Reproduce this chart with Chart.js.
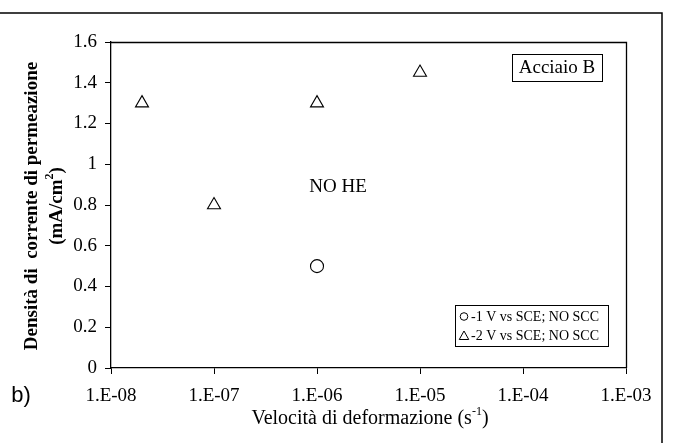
<!DOCTYPE html>
<html>
<head>
<meta charset="utf-8">
<script src="https://cdn.jsdelivr.net/npm/chart.js@4"></script>
<style>
  html, body { margin: 0; padding: 0; background: #fff; }
  canvas { display: block; }
</style>
</head>
<body>
<canvas id="c" width="674" height="443"></canvas>
<script>
// Strain rate (s^-1) and permeation current density (mA/cm^2)
const rateMinus1V = [1e-6];
const currentMinus1V = [0.5];
const rateMinus2V = [2e-8, 1e-7, 1e-6, 1e-5];
const currentMinus2V = [1.3, 0.8, 1.3, 1.45];

const xTickValues = [1e-8, 1e-7, 1e-6, 1e-5, 1e-4, 1e-3];
const xTickLabels = ['1.E-08', '1.E-07', '1.E-06', '1.E-05', '1.E-04', '1.E-03'];
const yTickLabels = ['0', '0.2', '0.4', '0.6', '0.8', '1', '1.2', '1.4', '1.6'];

const seriesNames = ['-1 V vs SCE; NO SCC', '-2 V vs SCE; NO SCC'];

const SERIF = "'Liberation Serif', 'Times New Roman', serif";
const INK = '#000';

function toPoints(xs, ys) { return xs.map((x, i) => ({ x: x, y: ys[i] })); }

// Draws text with a superscript piece: [base, sup, tail]
function drawSupText(ctx, parts, x, y, size, weight, align) {
  const [base, sup, tail] = parts;
  const supSize = Math.round(size * 0.62);
  ctx.font = `${weight} ${size}px ${SERIF}`;
  const wBase = ctx.measureText(base).width;
  const wTail = ctx.measureText(tail).width;
  ctx.font = `${weight} ${supSize}px ${SERIF}`;
  const wSup = ctx.measureText(sup).width;
  const total = wBase + wSup + wTail;
  const sx = align === 'center' ? x - total / 2 : x;
  ctx.textAlign = 'left';
  ctx.textBaseline = 'middle';
  ctx.font = `${weight} ${size}px ${SERIF}`;
  ctx.fillText(base, sx, y);
  ctx.font = `${weight} ${supSize}px ${SERIF}`;
  ctx.fillText(sup, sx + wBase, y - size * 0.35);
  ctx.font = `${weight} ${size}px ${SERIF}`;
  ctx.fillText(tail, sx + wBase + wSup, y);
}

function triangle(ctx, cx, cy, r) {
  ctx.beginPath();
  ctx.moveTo(cx, cy - r);
  ctx.lineTo(cx + r * 0.95, cy + r * 0.7);
  ctx.lineTo(cx - r * 0.95, cy + r * 0.7);
  ctx.closePath();
  ctx.stroke();
}

const decorations = {
  id: 'decorations',
  afterDraw(chart) {
    const ctx = chart.ctx;
    const a = chart.chartArea;
    ctx.save();
    ctx.strokeStyle = INK;
    ctx.fillStyle = INK;

    // plot frame (top and right edges)
    ctx.lineWidth = 1.3;
    ctx.beginPath();
    ctx.moveTo(a.left, a.top + 0.5);
    ctx.lineTo(a.right + 0.5, a.top + 0.5);
    ctx.lineTo(a.right + 0.5, a.bottom);
    ctx.stroke();

    // outer figure frame
    ctx.lineWidth = 1.5;
    ctx.beginPath();
    ctx.moveTo(0, 13);
    ctx.lineTo(662, 13);
    ctx.lineTo(662, 443);
    ctx.stroke();

    // steel label box
    ctx.lineWidth = 1;
    ctx.strokeRect(512.5, 54.5, 90, 27);
    ctx.font = `19px ${SERIF}`;
    ctx.textAlign = 'center';
    ctx.textBaseline = 'middle';
    ctx.fillText('Acciaio B', 557, 68.5);

    // region annotation
    ctx.fillText('NO HE', 338, 187);

    // legend
    ctx.strokeRect(455.5, 305.5, 153, 41);
    ctx.font = `14px ${SERIF}`;
    ctx.textAlign = 'left';
    ctx.lineWidth = 1;
    ctx.beginPath();
    ctx.arc(464, 316.5, 3.8, 0, Math.PI * 2);
    ctx.stroke();
    ctx.fillText(seriesNames[0], 471, 317);
    triangle(ctx, 464, 336, 5);
    ctx.fillText(seriesNames[1], 471, 336);

    // panel letter
    ctx.font = `22px 'Liberation Sans Narrow', 'Liberation Sans', Arial, sans-serif`;
    ctx.textAlign = 'center';
    ctx.fillText('b)', 21, 396);

    // x axis title
    drawSupText(ctx, ['Velocità di deformazione (s', '-1', ')'], 370, 419, 20, 'normal', 'center');

    // y axis title (two lines, rotated)
    ctx.save();
    ctx.translate(32, 206);
    ctx.rotate(-Math.PI / 2);
    ctx.font = `bold 19px ${SERIF}`;
    ctx.textAlign = 'center';
    ctx.textBaseline = 'middle';
    ctx.fillText('Densità di  corrente di permeazione', 0, 0);
    ctx.restore();
    ctx.save();
    ctx.translate(57, 206);
    ctx.rotate(-Math.PI / 2);
    drawSupText(ctx, ['(mA/cm', '2', ')'], 0, 0, 19, 'bold', 'center');
    ctx.restore();

    ctx.restore();
  }
};

new Chart(document.getElementById('c'), {
  type: 'scatter',
  data: {
    datasets: [
      {
        label: seriesNames[0],
        data: toPoints(rateMinus1V, currentMinus1V),
        pointStyle: 'circle',
        pointRadius: 6.5,
        borderColor: INK,
        backgroundColor: '#fff',
        borderWidth: 1.1
      },
      {
        label: seriesNames[1],
        data: toPoints(rateMinus2V, currentMinus2V),
        pointStyle: 'triangle',
        pointRadius: 7.5,
        borderColor: INK,
        backgroundColor: '#fff',
        borderWidth: 1.1
      }
    ]
  },
  options: {
    responsive: false,
    animation: false,
    layout: { padding: { left: 0, top: 42, right: 48, bottom: 0 } },
    plugins: { legend: { display: false }, tooltip: { enabled: false } },
    scales: {
      x: {
        type: 'logarithmic',
        min: 1e-8,
        max: 1e-3,
        afterBuildTicks(scale) { scale.ticks = xTickValues.map(v => ({ value: v })); },
        afterFit(scale) { scale.height = 75; },
        border: { display: true, color: INK, width: 1.3 },
        grid: { display: true, drawOnChartArea: false, drawTicks: true, tickLength: 6, color: INK },
        ticks: {
          autoSkip: false,
          maxRotation: 0,
          padding: 11,
          color: INK,
          font: { family: SERIF, size: 19 },
          callback(value) {
            const i = xTickValues.findIndex(v => Math.abs(Math.log10(v) - Math.log10(value)) < 1e-6);
            return i >= 0 ? xTickLabels[i] : '';
          }
        }
      },
      y: {
        min: 0,
        max: 1.6,
        afterFit(scale) { scale.width = 111; },
        border: { display: true, color: INK, width: 1.3 },
        grid: { display: true, drawOnChartArea: false, drawTicks: true, tickLength: 6, color: INK },
        ticks: {
          stepSize: 0.2,
          padding: 8,
          color: INK,
          font: { family: SERIF, size: 19 },
          callback(value) {
            const i = Math.round(value / 0.2);
            return yTickLabels[i] !== undefined ? yTickLabels[i] : '';
          }
        }
      }
    }
  },
  plugins: [decorations]
});
</script>
</body>
</html>
